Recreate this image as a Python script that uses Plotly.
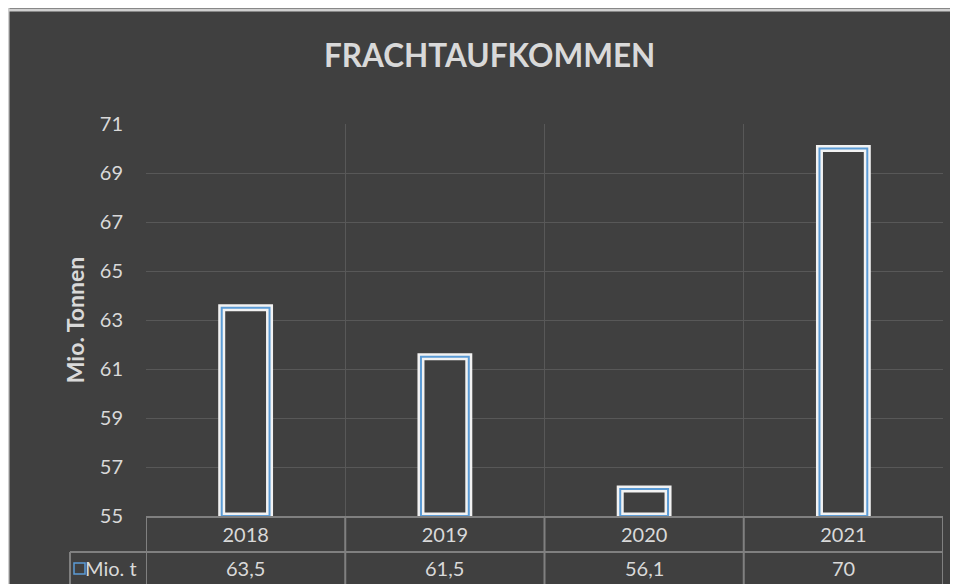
import plotly.graph_objects as go

# ---- data ----
years = ["2018", "2019", "2020", "2021"]
values = [63.5, 61.5, 56.1, 70]
value_labels = ["63,5", "61,5", "56,1", "70"]
y_min, y_max, y_step = 55, 71, 2
title_text = "FRACHTAUFKOMMEN"
y_title = "Mio. Tonnen"
series_name = "Mio. t"

BG = "#404040"
TXT = "#d9d9d9"
GRID = "#585858"
TABLE = "#808080"
BLUE = "#5b9bd5"
FONT = "Lato, 'Open Sans', sans-serif"

# figure pixel geometry (page is offset by the 8px body margin)
W, H = 950, 576
ml, mr, mt, mb = 138, 15, 116, 68
pw, ph = W - ml - mr, H - mt - mb

def px_x(p):  # figure pixel -> paper x
    return (p - ml) / pw

def px_y(p):  # figure pixel -> paper y
    return (H - mb - p) / ph

heights = [v - y_min for v in values]

fig = go.Figure()
fig.add_trace(go.Bar(x=years, y=heights, base=y_min, width=0.24,
                     marker=dict(color=BG, line=dict(color="#f2f2f2", width=7)),
                     showlegend=False, hoverinfo="skip"))
fig.add_trace(go.Bar(x=years, y=heights, base=y_min, width=0.24,
                     marker=dict(color="rgba(0,0,0,0)", line=dict(color=BLUE, width=2)),
                     showlegend=False, name=series_name))

shapes = []
# light border (top and left) of the chart area
shapes.append(dict(type="line", xref="paper", yref="paper", layer="below",
                   x0=px_x(0), x1=px_x(W), y0=px_y(2), y1=px_y(2),
                   line=dict(color="#cfcfcf", width=3)))
shapes.append(dict(type="line", xref="paper", yref="paper", layer="below",
                   x0=px_x(0.5), x1=px_x(0.5), y0=px_y(0), y1=px_y(H),
                   line=dict(color="#cfcfcf", width=2)))
# table vertical lines at category boundaries
n = len(years)
for i in range(n + 1):
    shapes.append(dict(type="line", xref="x", yref="paper",
                       x0=i - 0.5, x1=i - 0.5, y0=0, y1=px_y(H + 5),
                       line=dict(color=TABLE, width=2)))
# row separator and legend cell
cell_left = 62
shapes.append(dict(type="line", xref="paper", yref="paper",
                   x0=px_x(cell_left), x1=1, y0=px_y(544), y1=px_y(544),
                   line=dict(color=TABLE, width=2)))
shapes.append(dict(type="line", xref="paper", yref="paper",
                   x0=px_x(cell_left), x1=px_x(cell_left), y0=px_y(544), y1=px_y(H + 5),
                   line=dict(color=TABLE, width=2)))
# legend key square
shapes.append(dict(type="rect", xref="paper", yref="paper",
                   x0=px_x(66), x1=px_x(77), y0=px_y(566), y1=px_y(555),
                   line=dict(color=BLUE, width=1.5), fillcolor="rgba(0,0,0,0)"))

annotations = []
for i, lab in enumerate(value_labels):
    annotations.append(dict(x=i, xref="x", y=px_y(560), yref="paper",
                            text=lab, showarrow=False,
                            font=dict(family=FONT, size=20, color=TXT),
                            xanchor="center", yanchor="middle"))
annotations.append(dict(x=px_x(131), xref="paper", y=px_y(560), yref="paper",
                        text=series_name, showarrow=False,
                        font=dict(family=FONT, size=20, color=TXT),
                        xanchor="right", yanchor="middle"))

fig.update_layout(
    width=W, height=H,
    margin=dict(l=ml, r=mr, t=mt, b=mb, pad=0),
    paper_bgcolor=BG, plot_bgcolor=BG,
    barmode="overlay",
    title=dict(text=f"<b>{title_text}</b>", x=0.507, xanchor="center",
               y=1 - 48 / H, yanchor="middle",
               font=dict(family=FONT, size=31.5, color=TXT)),
    shapes=shapes, annotations=annotations,
    font=dict(family=FONT, color=TXT),
)
fig.update_xaxes(type="category", range=[-0.5, n - 0.5], tickson="boundaries",
                 showgrid=True, gridcolor=GRID, gridwidth=1,
                 showline=True, linecolor=TABLE, linewidth=2,
                 ticks="", tickfont=dict(family=FONT, size=20, color=TXT),
                 ticklabelstandoff=0, zeroline=False, fixedrange=True)
fig.update_yaxes(range=[y_min, y_max], dtick=y_step, tick0=y_min,
                 showgrid=True, gridcolor=GRID, gridwidth=1, zeroline=False,
                 showline=False, ticks="", ticklabelstandoff=22,
                 tickfont=dict(family=FONT, size=20, color=TXT),
                 title=dict(text=f"<b>{y_title}</b>", standoff=8,
                            font=dict(family=FONT, size=23, color=TXT)),
                 fixedrange=True)

fig.write_html("out.html")
